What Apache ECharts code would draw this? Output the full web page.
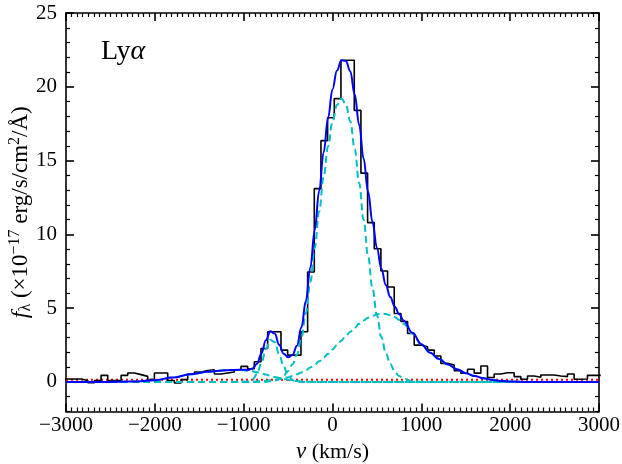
<!DOCTYPE html>
<html>
<head>
<meta charset="utf-8">
<script src="https://cdn.jsdelivr.net/npm/echarts@6/dist/echarts.min.js"></script>
<style>
  html, body { margin: 0; padding: 0; background: #fff; }
  #chart { width: 622px; height: 464px; }
</style>
</head>
<body>
<div id="chart"></div>
<script>
// ---------- data ----------
// observed histogram: first bin left edge and bin width (km/s), flux per bin
const histStart = -3055;
const histWidth = 75;
const histFlux = [
  0.2,
  0.2, 0.2, 0.1, -0.05, 0.1, 0.45, 0.1, 0.1, 0.45, 0.61,
  0.5, 0.38, 0.16, 0.61, 0.61, 0.1, -0.07, 0.16, 0.54, 0.68,
  0.77, 0.83, 0.54, 0.61, 0.68, 0.83, 1.06, 0.9, 1.37, 2.27,
  3.4, 3.4, 2.16, 1.82, 1.82, 3.4, 7.45, 13.1, 16.35, 17.9,
  19.2, 21.8, 21.8, 18.4, 14.15, 10.8, 9.03, 7.52, 6.44, 4.64,
  4.1, 3.29, 2.5, 2.39, 2.16, 1.76, 1.26, 1.15, 0.77, 0.6,
  0.86, 0.6, 1.08, 0.3, 0.54, 0.63, 0.63, 0.36, 0.18, 0.41,
  0.32, 0.47, 0.47, 0.4, 0.36, 0.54, 0.18, 0.2, 0.45, 0.45
];

// model curves sampled at these velocities (km/s)
const modelVel = [-3000, -2600, -2400, -2200, -2000, -1800, -1600, -1400, -1200, -1100,
  -1000, -950, -900, -850, -800, -750, -700, -650, -600, -550,
  -500, -450, -400, -350, -300, -250, -200, -150, -100, -50,
  0, 50, 100, 150, 200, 250, 300, 350, 400, 450,
  500, 550, 600, 650, 700, 750, 800, 900, 1000, 1100,
  1200, 1300, 1400, 1500, 1600, 1700, 1800, 1900, 2000, 2200,
  2400, 3000];

const modelTotal = [0, 0, 0.01, 0.04, 0.12, 0.3, 0.52, 0.7, 0.79, 0.82,
  0.83, 0.82, 0.92, 1.24, 1.93, 2.83, 3.44, 3.28, 2.52, 1.92,
  1.67, 1.83, 2.46, 3.69, 5.48, 7.74, 10.28, 12.95, 15.55, 17.88,
  19.84, 21.1, 21.8, 21.75, 21.06, 19.47, 17.43, 15.15, 12.91, 10.85,
  9.09, 7.67, 6.57, 5.75, 5.12, 4.6, 4.17, 3.33, 2.56, 1.98,
  1.55, 1.18, 0.87, 0.6, 0.4, 0.25, 0.14, 0.07, 0.03, 0.005,
  0, 0];

const compNarrow = [0, 0, 0, 0, 0, 0, 0, 0, 0, 0,
  0, 0, 0, 0, 0.01, 0.02, 0.05, 0.1, 0.2, 0.42,
  0.75, 1.2, 1.85, 3.0, 4.65, 6.75, 9.1, 11.55, 13.9, 15.96,
  17.64, 18.76, 19.2, 18.84, 17.66, 15.79, 13.49, 10.99, 8.56, 6.36,
  4.51, 3.05, 1.97, 1.22, 0.72, 0.4, 0.22, 0.05, 0.01, 0,
  0, 0, 0, 0, 0, 0, 0, 0, 0, 0,
  0, 0];

const compBroad = [0, 0, 0, 0, 0, 0, 0, 0, 0, 0.01,
  0.015, 0.02, 0.03, 0.04, 0.06, 0.08, 0.11, 0.15, 0.19, 0.25,
  0.32, 0.41, 0.52, 0.65, 0.8, 0.98, 1.18, 1.4, 1.65, 1.92,
  2.2, 2.5, 2.8, 3.11, 3.4, 3.68, 3.94, 4.16, 4.35, 4.49,
  4.58, 4.62, 4.6, 4.53, 4.4, 4.2, 3.95, 3.28, 2.55, 1.98,
  1.55, 1.18, 0.87, 0.6, 0.4, 0.25, 0.14, 0.07, 0.03, 0.005,
  0, 0];

const compBlue = [0, 0, 0, 0, 0, 0, 0, 0, 0, 0,
  0.01, 0.04, 0.17, 0.54, 1.28, 2.23, 2.86, 2.69, 1.86, 1.05,
  0.45, 0.12, 0.02, 0, 0, 0, 0, 0, 0, 0,
  0, 0, 0, 0, 0, 0, 0, 0, 0, 0,
  0, 0, 0, 0, 0, 0, 0, 0, 0, 0,
  0, 0, 0, 0, 0, 0, 0, 0, 0, 0,
  0, 0];

const compWing = [0, 0, 0.01, 0.04, 0.12, 0.3, 0.52, 0.7, 0.79, 0.81,
  0.8, 0.76, 0.72, 0.66, 0.58, 0.5, 0.42, 0.34, 0.27, 0.2,
  0.15, 0.1, 0.07, 0.04, 0.03, 0.01, 0, 0, 0, 0,
  0, 0, 0, 0, 0, 0, 0, 0, 0, 0,
  0, 0, 0, 0, 0, 0, 0, 0, 0, 0,
  0, 0, 0, 0, 0, 0, 0, 0, 0, 0,
  0, 0];

const continuumLevel = 0.15;
const xRange = [-3000, 3000];
const yRange = [-2, 25];
const yMajorTicks = [0, 5, 10, 15, 20, 25];
const yMinorTicks = [-2, -1, 1, 2, 3, 4, 6, 7, 8, 9, 11, 12, 13, 14, 16, 17, 18, 19, 21, 22, 23, 24];

// ---------- build ----------
const histData = histFlux.map((f, i) => [histStart + i * histWidth, f]);
histData.push([histStart + histFlux.length * histWidth, histFlux[histFlux.length - 1]]);
const pair = arr => modelVel.map((v, i) => [v, arr[i]]);

const FONT = '"Liberation Serif", "DejaVu Serif", serif';
const MINUS = '\u2212';
const fmt = v => (v < 0 ? MINUS + Math.abs(v) : String(v));

const tickCol = '#000';
function xAx(pos, showLabel) {
  return {
    type: 'value', position: pos, min: xRange[0], max: xRange[1], interval: 1000,
    axisLine: { show: true, onZero: false, lineStyle: { color: tickCol, width: 1.6 } },
    axisTick: { show: true, inside: true, length: 8, lineStyle: { color: tickCol, width: 1.6 } },
    minorTick: { show: true, splitNumber: 16, length: 4, lineStyle: { color: tickCol, width: 1.2 } },
    splitLine: { show: false }, minorSplitLine: { show: false },
    axisLabel: { show: showLabel, formatter: fmt, fontFamily: FONT, fontSize: 21, color: '#000', margin: 3 },
    name: showLabel ? '{i|v} (km/s)' : '',
    nameLocation: 'middle', nameGap: 26,
    nameTextStyle: { fontFamily: FONT, fontSize: 22, color: '#000',
      rich: { i: { fontFamily: FONT, fontSize: 23, fontStyle: 'italic', color: '#000' } } }
  };
}
function yAx(pos, major, showLine, showLabel) {
  const o = {
    type: 'value', position: pos, min: yRange[0], max: yRange[1],
    axisLine: { show: showLine, onZero: false, lineStyle: { color: tickCol, width: 1.6 } },
    axisTick: { show: true, inside: true, length: major ? 8 : 4, customValues: major ? yMajorTicks : yMinorTicks,
      lineStyle: { color: tickCol, width: major ? 1.6 : 1.2 } },
    minorTick: { show: false },
    splitLine: { show: false },
    axisLabel: { show: showLabel, customValues: yMajorTicks, formatter: fmt, fontFamily: FONT, fontSize: 21, color: '#000', margin: 9 }
  };
  if (showLabel) {
    o.name = '{i|f}{sub|λ} (×10{sup|−17} erg/s/cm{sup|2}/Å)';
    o.nameLocation = 'middle';
    o.nameGap = 32;
    o.nameMoveOverlap = false;
    o.nameTextStyle = { fontFamily: FONT, fontSize: 23, color: '#000',
      rich: {
        i: { fontFamily: FONT, fontSize: 24, fontStyle: 'italic', color: '#000' },
        sub: { fontFamily: FONT, fontSize: 16, color: '#000', padding: [10, 0, 0, 0] },
        sup: { fontFamily: FONT, fontSize: 16, color: '#000', padding: [0, 0, 11, 0] }
      } };
  }
  return o;
}

const chart = echarts.init(document.getElementById('chart'), null, { renderer: 'canvas' });
const cyan = '#00bfbf';
const dash = { color: cyan, width: 2, type: [7, 4] };
const modelLine = (name, arr, style, z) => ({
  name, type: 'line', data: pair(arr), showSymbol: false, symbol: 'none',
  smooth: 0.4, smoothMonotone: 'x', lineStyle: style, z, clip: true, silent: true
});

chart.setOption({
  animation: false,
  backgroundColor: '#fff',
  grid: { left: 66, right: 23, top: 13, bottom: 52.5, containLabel: false, outerBoundsMode: 'none' },
  xAxis: [xAx('bottom', true), xAx('top', false)],
  yAxis: [yAx('left', true, true, true), yAx('left', false, false, false),
          yAx('right', true, true, false), yAx('right', false, false, false)],
  graphic: [{
    type: 'text', left: 101, top: 38, z: 50,
    style: { text: 'Ly{a|α}', fontFamily: FONT, fontSize: 28, fill: '#000',
      rich: { a: { fontFamily: FONT, fontSize: 28, fontStyle: 'italic', fill: '#000' } } }
  }],
  series: [
    { name: 'continuum', type: 'line', data: [[xRange[0], continuumLevel], [xRange[1], continuumLevel]],
      symbol: 'none', lineStyle: { color: '#ff0000', width: 1.8, type: [2, 3] }, z: 1, silent: true },
    { name: 'data', type: 'line', data: histData, step: 'end', symbol: 'none', clip: true,
      lineStyle: { color: '#000', width: 1.6 }, z: 2, silent: true },
    modelLine('wing', compWing, dash, 3),
    modelLine('narrow', compNarrow, dash, 3),
    modelLine('broad', compBroad, dash, 3),
    modelLine('blueBump', compBlue, dash, 3),
    modelLine('total', modelTotal, { color: '#0000ff', width: 2 }, 4)
  ]
});
</script>
</body>
</html>
